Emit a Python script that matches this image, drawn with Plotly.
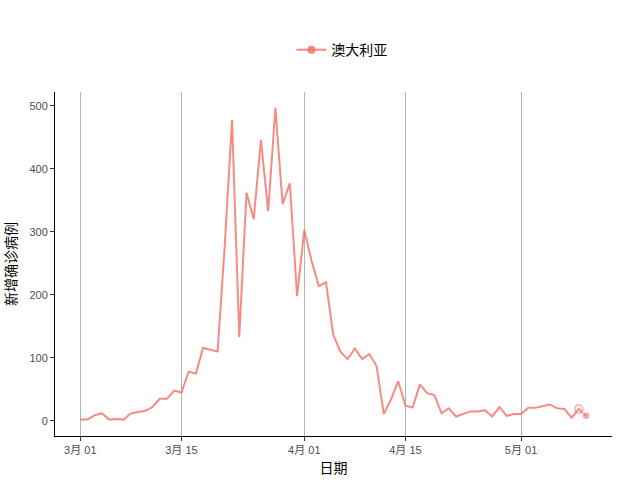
import plotly.graph_objects as go
import pandas as pd

dates = pd.date_range("2020-03-01", "2020-05-10", freq="D")
new_cases = [
    2, 2, 9, 12, 2, 3, 2, 12, 14, 16, 22, 35, 35, 48, 45, 78, 75, 116, 113, 110,
    280, 478, 133, 362, 320, 446, 333, 497, 344, 377, 198,
    303, 254, 214, 220, 137, 110, 98, 115, 98, 106, 87, 11, 34, 63, 24, 21, 58, 44, 41,
    12, 20, 7, 11, 15, 15, 17, 7, 22, 8, 11,
    11, 21, 21, 23, 26, 20, 19, 5, 19, 8,
]
series_name = "澳大利亚"
tick_dates = ["2020-03-01", "2020-03-15", "2020-04-01", "2020-04-15", "2020-05-01"]
tick_labels = ["3月 01", "3月 15", "4月 01", "4月 15", "5月 01"]
y_ticks = [0, 100, 200, 300, 400, 500]

line_color = "rgba(248,118,109,0.85)"
marker_color = "rgba(248,118,109,0.9)"

fig = go.Figure()
fig.add_trace(go.Scatter(
    x=dates, y=new_cases, name=series_name, mode="lines",
    line=dict(color=line_color, width=2),
    legendgroup="au", showlegend=False,
))
# end-point markers
fig.add_trace(go.Scatter(
    x=dates[-2:], y=new_cases[-2:], name=series_name, mode="markers",
    marker=dict(size=[8, 8], symbol=["circle-open", "circle"], color=marker_color,
                line=dict(width=1.5)),
    legendgroup="au", showlegend=False,
))
# legend entry
fig.add_trace(go.Scatter(
    x=[None], y=[None], name=series_name, mode="lines+markers",
    line=dict(color=line_color, width=2),
    marker=dict(size=8, symbol="circle", color=marker_color),
    legendgroup="au", showlegend=True,
))

cjk = "Noto Sans CJK SC"
fig.update_layout(
    width=640, height=480,
    margin=dict(l=55, r=28, t=92, b=44, autoexpand=False),
    paper_bgcolor="white", plot_bgcolor="white",
    font=dict(family="Liberation Sans, " + cjk, color="#000000"),
    legend=dict(orientation="h", x=0.515, xanchor="center", y=1.122, yanchor="middle",
                font=dict(size=14, family=cjk, color="#000000")),
    xaxis=dict(
        automargin=False,
        range=["2020-02-26 12:00", "2020-05-13 14:00"],
        tickvals=tick_dates, ticktext=tick_labels,
        tickfont=dict(size=11, color="#4D4D4D", family="Liberation Sans, " + cjk),
        showgrid=True, gridcolor="#B3B3B3", gridwidth=1,
        showline=True, linecolor="black", linewidth=1,
        ticks="outside", ticklen=4, tickcolor="#333333",
        zeroline=False,
        title=dict(text="日期", font=dict(size=14, family=cjk), standoff=7),
    ),
    yaxis=dict(
        automargin=False,
        range=[-24, 522],
        tickvals=y_ticks,
        tickfont=dict(size=11, color="#4D4D4D", family="Liberation Sans"),
        showgrid=False,
        showline=True, linecolor="black", linewidth=1,
        ticks="outside", ticklen=4, tickcolor="#333333",
        zeroline=False,
        title=dict(text="新增确诊病例", font=dict(size=14, family=cjk), standoff=10),
    ),
)

fig.write_html("out.html", config={"displayModeBar": False},
               post_script="document.body.style.margin='0';")
